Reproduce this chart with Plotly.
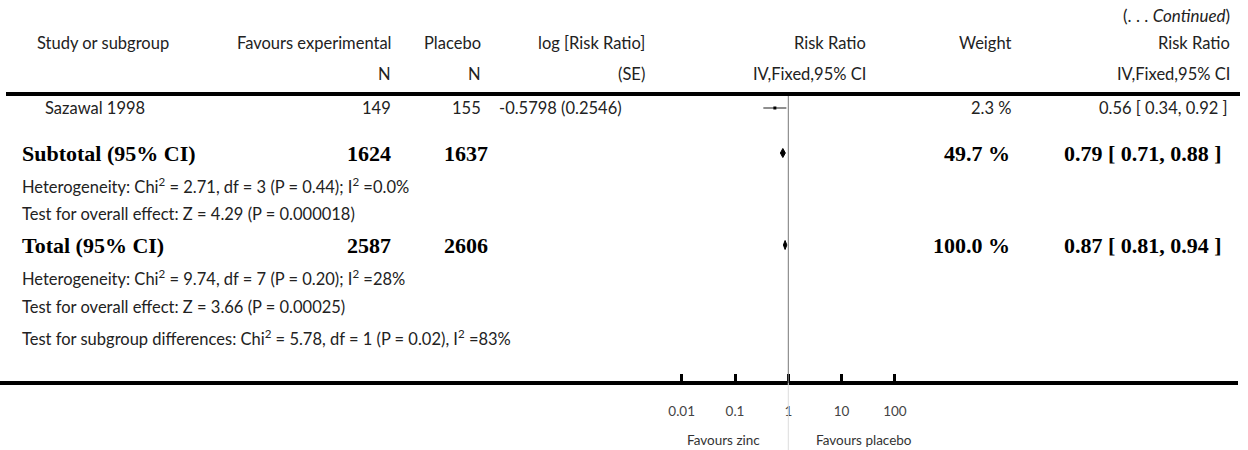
import plotly.graph_objects as go

W, H = 1248, 450

# ---------------- data ----------------
headers_top = ["Study or subgroup", "Favours experimental", "Placebo", "log [Risk Ratio]", "Risk Ratio", "Weight", "Risk Ratio"]
headers_bot = ["", "N", "N", "(SE)", "IV,Fixed,95% CI", "", "IV,Fixed,95% CI"]

studies = ["Sazawal 1998"]
exp_n = [149]
pla_n = [155]
log_rr_se = ["-0.5798 (0.2546)"]
study_rr = [0.56]
study_lo = [0.34]
study_hi = [0.92]
study_weight = ["2.3 %"]

summary_labels = ["Subtotal (95% CI)", "Total (95% CI)"]
summary_exp = [1624, 2587]
summary_pla = [1637, 2606]
summary_weight = ["49.7 %", "100.0 %"]
summary_rr = [0.79, 0.87]
summary_lo = [0.71, 0.81]
summary_hi = [0.88, 0.94]

subtotal_stats = [
    "Heterogeneity: Chi<sup>2</sup> = 2.71, df = 3 (P = 0.44); I<sup>2</sup> =0.0%",
    "Test for overall effect: Z = 4.29 (P = 0.000018)",
]
total_stats = [
    "Heterogeneity: Chi<sup>2</sup> = 9.74, df = 7 (P = 0.20); I<sup>2</sup> =28%",
    "Test for overall effect: Z = 3.66 (P = 0.00025)",
    "Test for subgroup differences: Chi<sup>2</sup> = 5.78, df = 1 (P = 0.02), I<sup>2</sup> =83%",
]

tick_vals = [0.01, 0.1, 1, 10, 100]
tick_text = ["0.01", "0.1", "1", "10", "100"]
favours_left = "Favours zinc"
favours_right = "Favours placebo"

# ---------------- layout constants ----------------
X_ONE = 788.3
PX_DEC = 53.3
AXIS_END = 1238
AXIS_Y = 383
log_lo = (0 - X_ONE) / PX_DEC
log_hi = (AXIS_END - X_ONE) / PX_DEC

REG = dict(family="Lato", size=16.5, color="#222")
BOLD = dict(family="Liberation Serif", size=22, color="#000")

ROW_HDR1, ROW_HDR2 = 43, 74
ROW_STUDY = [108]
ROW_SUM = [153, 245]
ROW_SUB_STATS = [186, 214]
ROW_TOT_STATS = [278, 307, 338]

fig = go.Figure()
annotations = []


def txt(xp, yp, text, anchor="left", font=REG):
    annotations.append(dict(x=xp / W, xref="paper", y=yp, yref="y", text=text,
                            showarrow=False, xanchor=anchor, yanchor="middle",
                            font=font, align=anchor))


# header
txt(1232, 15, "(. . . <i>Continued</i>)", "right", dict(family="Lato", size=17, color="#222"))
hdr_x = [35, 393, 483, 647, 868, 1013, 1232]
hdr_anchor = ["left", "right", "right", "right", "right", "right", "right"]
for xp, a, t1, t2 in zip(hdr_x, hdr_anchor, headers_top, headers_bot):
    txt(xp, ROW_HDR1, t1, a)
    if t2:
        txt(xp, ROW_HDR2, t2, a)

# study rows
for i, s in enumerate(studies):
    y = ROW_STUDY[i]
    txt(43, y, s, "left")
    txt(393, y, str(exp_n[i]), "right")
    txt(483, y, str(pla_n[i]), "right")
    txt(497, y, log_rr_se[i], "left")
    txt(1013, y, study_weight[i], "right")
    txt(1230, y, f"{study_rr[i]:.2f} [ {study_lo[i]:.2f}, {study_hi[i]:.2f} ]", "right")
    fig.add_trace(go.Scatter(x=[study_lo[i], study_hi[i]], y=[y, y], mode="lines",
                             line=dict(color="#444", width=1.2), hoverinfo="skip"))
    fig.add_trace(go.Scatter(x=[study_rr[i]], y=[y], mode="markers",
                             marker=dict(symbol="square", size=3, color="#000"), hoverinfo="skip"))

# summary rows
for i, lab in enumerate(summary_labels):
    y = ROW_SUM[i]
    txt(20, y, f"<b>{lab}</b>", "left", BOLD)
    txt(393, y, f"<b>{summary_exp[i]}</b>", "right", BOLD)
    txt(490, y, f"<b>{summary_pla[i]}</b>", "right", BOLD)
    txt(1012, y, f"<b>{summary_weight[i]}</b>", "right", BOLD)
    txt(1224, y, f"<b>{summary_rr[i]:.2f} [ {summary_lo[i]:.2f}, {summary_hi[i]:.2f} ]</b>", "right", BOLD)
    h = 4.5
    fig.add_trace(go.Scatter(x=[summary_lo[i], summary_rr[i], summary_hi[i], summary_rr[i], summary_lo[i]],
                             y=[y, y - h, y, y + h, y], mode="lines", fill="toself",
                             fillcolor="#000", line=dict(color="#000", width=1), hoverinfo="skip"))

for y, t in zip(ROW_SUB_STATS, subtotal_stats):
    txt(20, y, t, "left")
for y, t in zip(ROW_TOT_STATS, total_stats):
    txt(20, y, t, "left")

# favours labels
txt(X_ONE - 26, 440, favours_left, "right", dict(family="Lato", size=13.5, color="#333"))
txt(X_ONE + 26, 440, favours_right, "left", dict(family="Lato", size=13.5, color="#333"))

shapes = [
    dict(type="line", xref="paper", yref="y", x0=6 / W, x1=1240 / W, y0=94, y1=94,
         line=dict(color="#000", width=4)),
    dict(type="line", xref="x", yref="y", x0=1, x1=1, y0=96, y1=AXIS_Y,
         line=dict(color="#777", width=1)),
    dict(type="line", xref="x", yref="y", x0=1, x1=1, y0=AXIS_Y, y1=450,
         line=dict(color="#ddd", width=1)),
]

fig.update_layout(
    width=W, height=H, margin=dict(l=0, r=0, t=0, b=0),
    paper_bgcolor="white", plot_bgcolor="white", showlegend=False,
    annotations=annotations, shapes=shapes,
    xaxis=dict(type="log", range=[log_lo, log_hi], domain=[0, AXIS_END / W],
               anchor="free", position=(H - AXIS_Y) / H,
               showline=True, linecolor="#000", linewidth=4,
               ticks="inside", ticklen=7, tickwidth=2.5, tickcolor="#000",
               tickvals=tick_vals, ticktext=tick_text, ticklabelstandoff=15,
               tickfont=dict(family="Lato", size=13.5, color="#444"),
               showgrid=False, zeroline=False, fixedrange=True),
    yaxis=dict(range=[H, 0], domain=[0, 1], visible=False, showgrid=False,
               zeroline=False, fixedrange=True),
)

fig.write_html("out.html", config={"displayModeBar": False},
               post_script="document.body.style.margin='0';")
